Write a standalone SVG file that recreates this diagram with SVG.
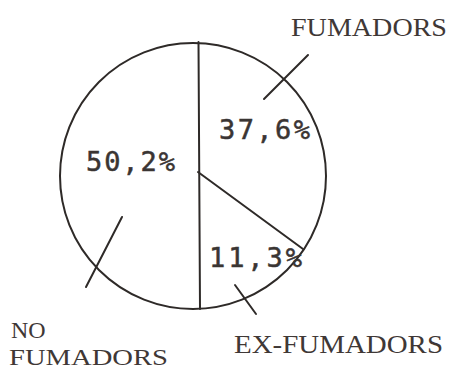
<svg xmlns="http://www.w3.org/2000/svg" width="450" height="371" viewBox="0 0 450 371">
<style>
.ln{fill:none;stroke:#2e2a28;stroke-width:2;stroke-linecap:round}
.lbl{font-family:"Liberation Serif","Times New Roman",serif;font-size:26px;fill:#3f3836}
.lbs{font-family:"Liberation Serif","Times New Roman",serif;font-size:24px;fill:#3f3836}
.pct{font-family:"DejaVu Sans Mono","Liberation Mono",monospace;font-size:27px;fill:#3a3533;stroke:#3a3533;stroke-width:0.5}
</style>
<rect width="450" height="371" fill="#ffffff"/>
<g id="pie">
<circle class="ln" cx="193" cy="176" r="133"/>
<line class="ln" x1="198.5" y1="42" x2="200" y2="309"/>
<line class="ln" x1="198" y1="172" x2="303" y2="249"/>
</g>
<g id="connectors">
<line class="ln" x1="264" y1="99" x2="308" y2="55"/>
<line class="ln" x1="122" y1="217" x2="86" y2="287"/>
<line class="ln" x1="235" y1="285" x2="256" y2="314"/>
</g>
<g id="fumadors">
<text class="pct" x="219" y="139" textLength="91" lengthAdjust="spacing">37,6%</text>
<text class="lbl" x="291" y="36" textLength="156" lengthAdjust="spacingAndGlyphs">FUMADORS</text>
</g>
<g id="no-fumadors">
<text class="pct" x="86" y="171" textLength="89" lengthAdjust="spacing">50,2%</text>
<text class="lbs" x="11" y="338">NO</text>
<text class="lbs" x="9" y="365" textLength="159" lengthAdjust="spacingAndGlyphs">FUMADORS</text>
</g>
<g id="ex-fumadors">
<text class="pct" x="209" y="267" textLength="93" lengthAdjust="spacing">11,3%</text>
<text class="lbl" x="234" y="353" textLength="209" lengthAdjust="spacingAndGlyphs">EX-FUMADORS</text>
</g>
</svg>
